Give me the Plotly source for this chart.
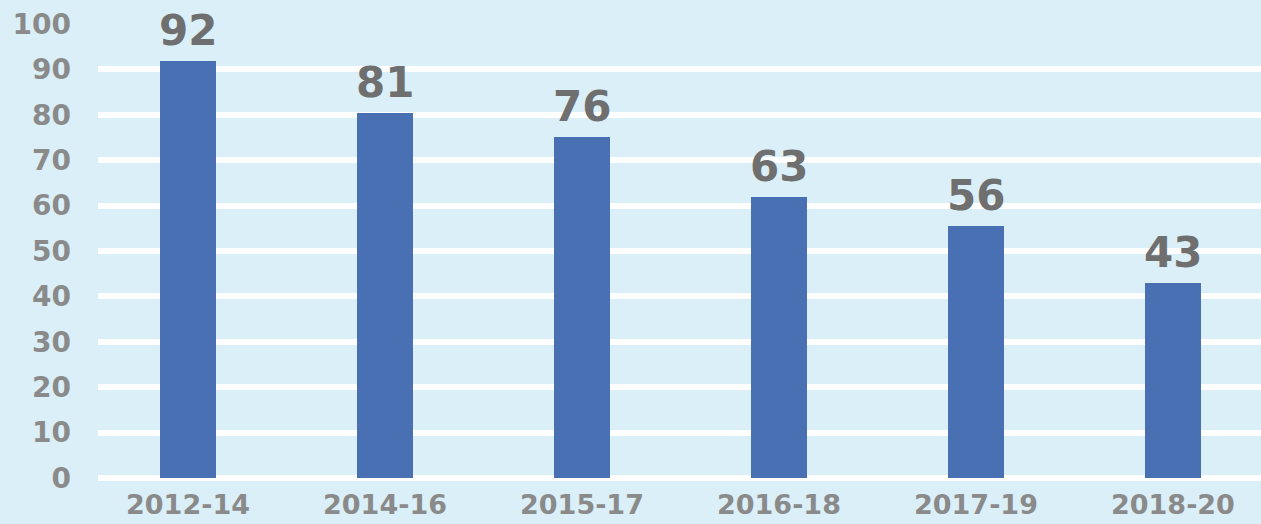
import plotly.graph_objects as go

categories = ["2012-14", "2014-16", "2015-17", "2016-18", "2017-19", "2018-20"]
values = [91.8, 80.4, 75.1, 61.9, 55.5, 42.9]
labels = ["92", "81", "76", "63", "56", "43"]
y_ticks = [0, 10, 20, 30, 40, 50, 60, 70, 80, 90, 100]

BG = "#DAEFF8"
BAR = "#4A70B4"

x_pos = list(range(len(categories)))

fig = go.Figure(
    go.Bar(
        x=x_pos,
        y=values,
        width=0.28,
        marker=dict(color=BAR, line=dict(width=0)),
        cliponaxis=False,
        hoverinfo="skip",
    )
)

for xp, v, lab in zip(x_pos, values, labels):
    fig.add_annotation(
        x=xp, y=v, text=lab, showarrow=False,
        xanchor="center", yanchor="bottom", yshift=4,
        font=dict(family="DejaVu Sans", size=42, color="#6F6F6F", weight="bold"),
    )

fig.update_layout(
    width=1261,
    height=524,
    paper_bgcolor=BG,
    plot_bgcolor=BG,
    margin=dict(l=98, r=0, t=24, b=46),
    showlegend=False,
    bargap=0,
    xaxis=dict(
        range=[-0.457, 5.447],
        tickvals=x_pos,
        ticktext=categories,
        showgrid=False,
        zeroline=False,
        showline=False,
        ticks="",
        automargin=False,
        tickfont=dict(family="DejaVu Sans", size=27, color="#8A8A8A", weight="bold"),
        ticklabelstandoff=8,
    ),
    yaxis=dict(
        range=[0, 100],
        tickvals=y_ticks,
        showgrid=True,
        gridcolor="white",
        gridwidth=6,
        zeroline=True,
        zerolinecolor="white",
        zerolinewidth=6,
        showline=False,
        ticks="",
        automargin=False,
        tickfont=dict(family="DejaVu Sans", size=28, color="#8A8A8A", weight="bold"),
        ticklabelstandoff=26,
    ),
)

fig.write_html(
    "out.html",
    config={"displayModeBar": False},
    post_script="document.body.style.margin='0';document.body.style.overflow='hidden';",
)
